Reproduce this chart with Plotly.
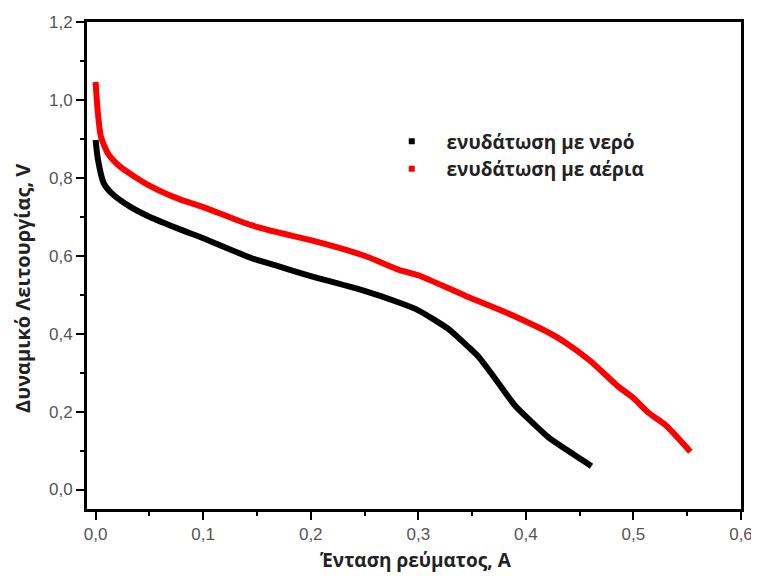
import plotly.graph_objects as go

# current (A) and cell voltage (V)
water_i = [0.0, 0.002, 0.0074, 0.015, 0.032, 0.05, 0.079, 0.1, 0.144, 0.171, 0.2, 0.25, 0.282,
           0.3, 0.329, 0.345, 0.356, 0.37, 0.39, 0.406, 0.421, 0.44, 0.461]
water_v = [0.897, 0.85, 0.787, 0.76, 0.726, 0.70, 0.667, 0.645, 0.595, 0.572, 0.548, 0.51, 0.48,
           0.46, 0.41, 0.37, 0.341, 0.29, 0.215, 0.172, 0.134, 0.098, 0.06]

gas_i = [0.0, 0.002, 0.005, 0.012, 0.023, 0.05, 0.079, 0.1, 0.144, 0.171, 0.2, 0.25, 0.282,
         0.3, 0.344, 0.375, 0.39, 0.421, 0.437, 0.46, 0.486, 0.5, 0.514, 0.53, 0.553]
gas_v = [1.046, 0.97, 0.905, 0.86, 0.828, 0.78, 0.744, 0.725, 0.679, 0.659, 0.64, 0.60, 0.564,
         0.55, 0.497, 0.462, 0.444, 0.403, 0.377, 0.33, 0.264, 0.235, 0.197, 0.165, 0.097]

series = [
    ("ενυδάτωση με νερό", water_i, water_v, "#000000"),
    ("ενυδάτωση με αέρια", gas_i, gas_v, "#ff0000"),
]

x_title = "Ένταση ρεύματος, A"
y_title = "Δυναμικό Λειτουργίας, V"

fam = "Open Sans, Arial, sans-serif"

fig = go.Figure()
for name, xs, ys, col in series:
    fig.add_trace(go.Scatter(x=xs, y=ys, mode="lines",
                             line=dict(color=col, width=6, shape="spline", smoothing=0.6),
                             showlegend=False))
    # legend entry drawn as a small dot like the original
    fig.add_trace(go.Scatter(x=[None], y=[None], mode="markers",
                             name="&nbsp;&nbsp;&nbsp;<b>" + name + "</b>",
                             marker=dict(color=col, size=6, symbol="square")))

axis_common = dict(
    showline=True, linecolor="black", linewidth=3, mirror=True,
    ticks="outside", ticklen=8, tickwidth=2, tickcolor="black",
    showgrid=False, zeroline=False, tickformat=".1f", automargin=False,
    tickfont=dict(size=17, color="#555"),
)

fig.update_xaxes(range=[-0.008, 0.6], dtick=0.1,
                 minor=dict(ticks="outside", ticklen=4, tickwidth=2, tickcolor="black", dtick=0.05),
                 **axis_common)
fig.update_yaxes(range=[-0.05, 1.2], dtick=0.2,
                 minor=dict(ticks="outside", ticklen=4, tickwidth=2, tickcolor="black", dtick=0.1),
                 **axis_common)

# axis titles as annotations: the y title in the original sits below the plot centre
fig.add_annotation(text="<b>" + x_title + "</b>", xref="paper", yref="paper", x=0.503, y=-0.105,
                   xanchor="center", yanchor="middle", showarrow=False,
                   font=dict(family=fam, size=19, color="#222"))
fig.add_annotation(text="<b>" + y_title + "</b>", xref="paper", yref="paper", x=-0.0979, y=0.454,
                   xanchor="center", yanchor="middle", textangle=-90, showarrow=False,
                   font=dict(family=fam, size=20, color="#222"))

# the page body keeps an 8px margin; sizes chosen so the plot lands where the original sits
fig.update_layout(
    width=751, height=565,
    margin=dict(l=79, r=18, t=14, b=64),
    plot_bgcolor="white", paper_bgcolor="white",
    separators=",.",
    font=dict(family="Arial, Liberation Sans, sans-serif"),
    legend=dict(x=0.466, y=0.794, xanchor="left", yanchor="top", bgcolor="rgba(0,0,0,0)",
                font=dict(family=fam, size=19, color="#222"), itemwidth=30, tracegroupgap=0),
)

fig.write_html("out.html")
